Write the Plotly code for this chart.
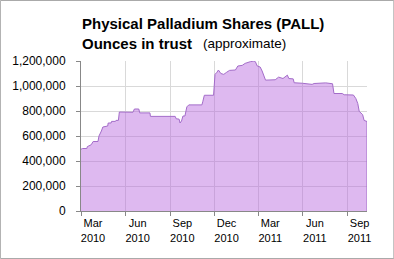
import plotly.graph_objects as go

dates = [
    "2010-03-01", "2010-03-04", "2010-03-13", "2010-03-14", "2010-03-22", "2010-03-26",
    "2010-04-05", "2010-04-07", "2010-04-12", "2010-04-15", "2010-04-25", "2010-04-26",
    "2010-05-02", "2010-05-03", "2010-05-11", "2010-05-12", "2010-05-17", "2010-05-19",
    "2010-06-16", "2010-06-19", "2010-06-28", "2010-06-30", "2010-07-21", "2010-07-22",
    "2010-09-11", "2010-09-13", "2010-09-19", "2010-09-21", "2010-09-24", "2010-09-27",
    "2010-10-01", "2010-10-05", "2010-10-09", "2010-11-05", "2010-11-07", "2010-11-10",
    "2010-11-29", "2010-12-02", "2010-12-06", "2010-12-09", "2010-12-14", "2010-12-20",
    "2010-12-26", "2011-01-01", "2011-01-13", "2011-01-18", "2011-01-27", "2011-02-02",
    "2011-02-13", "2011-02-20", "2011-02-23", "2011-02-27", "2011-03-05", "2011-03-09",
    "2011-03-16", "2011-04-05", "2011-04-12", "2011-04-21", "2011-04-30", "2011-05-03",
    "2011-05-12", "2011-05-14", "2011-05-31", "2011-06-20", "2011-06-24", "2011-07-18",
    "2011-08-01", "2011-08-04", "2011-08-21", "2011-08-25", "2011-09-13", "2011-09-18",
    "2011-09-22", "2011-09-25", "2011-10-02", "2011-10-05", "2011-10-11",
]
ounces = [
    494000, 500000, 500000, 515000, 530000, 556000,
    556000, 600000, 640000, 672000, 680000, 704000,
    704000, 717000, 717000, 725000, 725000, 792000,
    790000, 816000, 816000, 785000, 785000, 757000,
    757000, 738000, 735000, 704000, 720000, 760000,
    760000, 833000, 849000, 849000, 878000, 926000,
    926000, 1093000, 1110000, 1128000, 1100000, 1093000,
    1110000, 1125000, 1128000, 1160000, 1165000, 1181000,
    1195000, 1200000, 1195000, 1160000, 1152000, 1120000,
    1047000, 1050000, 1071000, 1060000, 1087000, 1060000,
    1057000, 1026000, 1022000, 1013000, 1020000, 1025000,
    1018000, 940000, 940000, 930000, 928000, 900000,
    860000, 797000, 771000, 725000, 716000,
]

title_line1 = "Physical Palladium Shares (PALL)"
title_line2 = "Ounces in trust"
title_note = "(approximate)"

line_color = "#a36cc9"
fill_color = "rgba(182,100,222,0.45)"

fig = go.Figure()
fig.add_trace(go.Scatter(
    x=dates, y=ounces, mode="lines", fill="tozeroy",
    line=dict(color=line_color, width=1), fillcolor=fill_color,
    hoverinfo="skip", showlegend=False,
))
# right edge of the filled area
fig.add_trace(go.Scatter(
    x=[dates[-1], dates[-1]], y=[0, ounces[-1]], mode="lines",
    line=dict(color=line_color, width=1), hoverinfo="skip", showlegend=False,
))

font = "Liberation Sans, Arial, sans-serif"
fig.update_layout(
    width=394, height=259,
    margin=dict(l=81, r=27, t=61, b=48),
    paper_bgcolor="white", plot_bgcolor="white",
    font=dict(family=font, color="black"),
    xaxis=dict(
        type="date", range=["2010-03-01", "2011-10-11"],
        tick0="2010-03-01", dtick="M3", tickformat="%b<br>%Y",
        ticks="outside", ticklen=4, tickcolor="#888888",
        showline=True, linecolor="#888888", linewidth=1,
        showgrid=True, gridcolor="#d9d9d9", gridwidth=1,
        tickfont=dict(size=11, family=font), ticklabelshift=12,
        ticklabelstandoff=-2,
        zeroline=False,
    ),
    yaxis=dict(
        range=[0, 1200000], dtick=200000, tickformat=",d",
        ticks="outside", ticklen=4, tickcolor="#888888",
        showline=True, linecolor="#888888", linewidth=1,
        showgrid=True, gridcolor="#d9d9d9", gridwidth=1,
        tickfont=dict(size=12, family=font), ticklabelstandoff=8,
        zeroline=False,
    ),
    annotations=[
        dict(text="<b>" + title_line1 + "</b>", xref="paper", yref="paper",
             x=-0.004, y=1.247, xanchor="left", yanchor="middle", showarrow=False,
             font=dict(size=15, family=font, color="black")),
        dict(text="<b>" + title_line2 + "</b>", xref="paper", yref="paper",
             x=-0.004, y=1.117, xanchor="left", yanchor="middle", showarrow=False,
             font=dict(size=15, family=font, color="black")),
        dict(text=title_note, xref="paper", yref="paper",
             x=0.42, y=1.117, xanchor="left", yanchor="middle", showarrow=False,
             font=dict(size=13.5, family=font, color="black")),
    ],
    shapes=[
        dict(type="rect", xref="paper", yref="paper",
             x0=-0.2818, x1=1.0938, y0=-0.3167, y1=1.4033,
             line=dict(color="#aaaaaa", width=1), fillcolor="rgba(0,0,0,0)", layer="above"),
    ],
)

fig.write_html("out.html")
